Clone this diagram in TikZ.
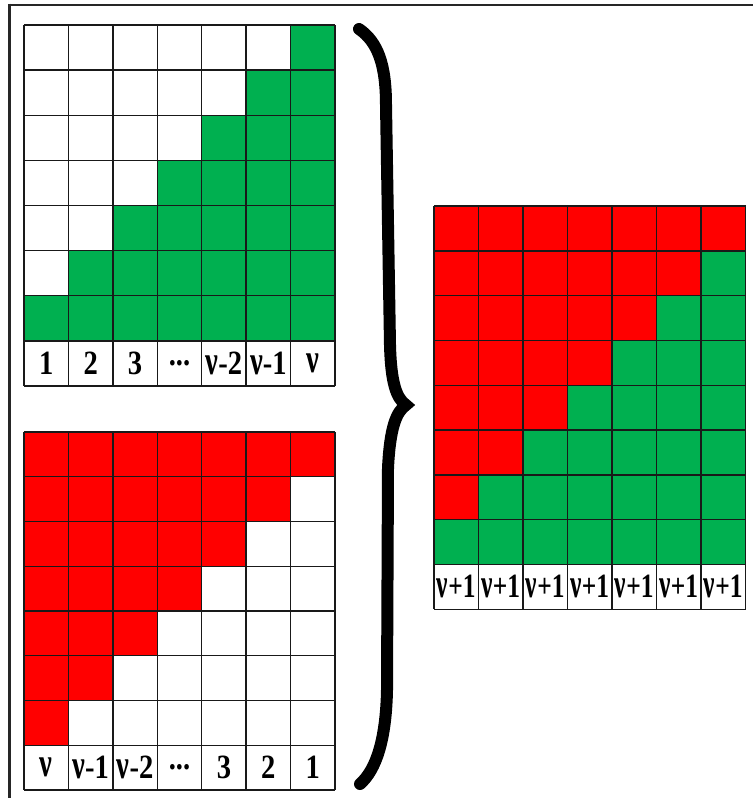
\documentclass[tikz,border=0pt]{standalone}
\usepackage{fontspec}
\usepackage{graphicx}
\setmainfont{Liberation Serif}[BoldFont={Liberation Serif Bold}]
\definecolor{cgreen}{HTML}{00B050}
\definecolor{cred}{HTML}{FF0000}
\newcommand{\lbl}[2][0.84]{\scalebox{#1}[1]{\fontsize{34}{34}\selectfont\bfseries #2}}
\newcommand{\vnu}{\scalebox{1}[1.2]{ν}}
\newcommand{\dts}{...}
\begin{document}
\begin{tikzpicture}[x=1pt,y=-1pt,
  gl/.style={line width=1.4pt, draw=black!90},
  lab/.style={inner sep=0pt},
  frameline/.style={line width=2.8pt, black!85}]
\useasboundingbox (0,0) rectangle (753,798);
% frame
\draw[frameline] (9.5,5) -- (753,5);
\draw[frameline] (9.5,3.6) -- (9.5,798);
% ---------- grid A (top left) ----------
\def\ax{24}\def\ay{25}\def\aw{44.43}\def\ah{45.125}
\foreach \r in {0,...,6}{
  \pgfmathtruncatemacro\s{6-\r}
  \fill[cgreen] (\ax+\s*\aw,\ay+\r*\ah) rectangle (\ax+7*\aw,\ay+\r*\ah+\ah);
}
\foreach \i in {0,...,7} \draw[gl] (\ax+\i*\aw,\ay) -- (\ax+\i*\aw,\ay+8*\ah);
\foreach \j in {0,...,8} \draw[gl] (\ax,\ay+\j*\ah) -- (\ax+7*\aw,\ay+\j*\ah);
\foreach \t [count=\k from 0] in {{1},{2},{3},{\dts},{\vnu-2},{\vnu-1},{\vnu}}
  \node[lab] (a\k) at (\ax+\k*\aw+0.5*\aw,\ay+7.5*\ah) {\lbl{\t}};
% ---------- grid B (bottom left) ----------
\def\bx{24}\def\by{432}\def\bw{44.43}\def\bh{44.75}
\foreach \r in {0,...,6}{
  \pgfmathtruncatemacro\s{7-\r}
  \fill[cred] (\bx,\by+\r*\bh) rectangle (\bx+\s*\bw,\by+\r*\bh+\bh);
}
\foreach \i in {0,...,7} \draw[gl] (\bx+\i*\bw,\by) -- (\bx+\i*\bw,\by+8*\bh);
\foreach \j in {0,...,8} \draw[gl] (\bx,\by+\j*\bh) -- (\bx+7*\bw,\by+\j*\bh);
\foreach \t [count=\k from 0] in {{\vnu},{\vnu-1},{\vnu-2},{\dts},{3},{2},{1}}
  \node[lab] (b\k) at (\bx+\k*\bw+0.5*\bw,\by+7.5*\bh) {\lbl{\t}};
% ---------- grid C (right) ----------
\def\cx{434}\def\cy{206}\def\cw{44.5}\def\ch{44.8}
\foreach \r in {0,...,7}{
  \pgfmathtruncatemacro\s{7-\r}
  \fill[cgreen] (\cx,\cy+\r*\ch) rectangle (\cx+7*\cw,\cy+\r*\ch+\ch);
  \ifnum\s>0
  \fill[cred] (\cx,\cy+\r*\ch) rectangle (\cx+\s*\cw,\cy+\r*\ch+\ch);
  \fi
}
\foreach \i in {0,...,7} \draw[gl] (\cx+\i*\cw,\cy) -- (\cx+\i*\cw,\cy+9*\ch);
\foreach \j in {0,...,9} \draw[gl] (\cx,\cy+\j*\ch) -- (\cx+7*\cw,\cy+\j*\ch);
\foreach \k in {0,...,6}
  \node[lab] (c\k) at (\cx+\k*\cw+0.5*\cw,\cy+8.5*\ch) {\lbl[0.75]{\vnu+1}};
% ---------- brace ----------
\draw[line width=12pt, line cap=round, line join=miter]
  (359,29) .. controls (378,42) and (386,65) .. (386,105)
  -- (390,345) .. controls (391,382) and (396,398) .. (406,405)
  .. controls (396,412) and (390,428) .. (388,468)
  -- (387,690) .. controls (386,740) and (376,770) .. (360,784);
\end{tikzpicture}
\end{document}
